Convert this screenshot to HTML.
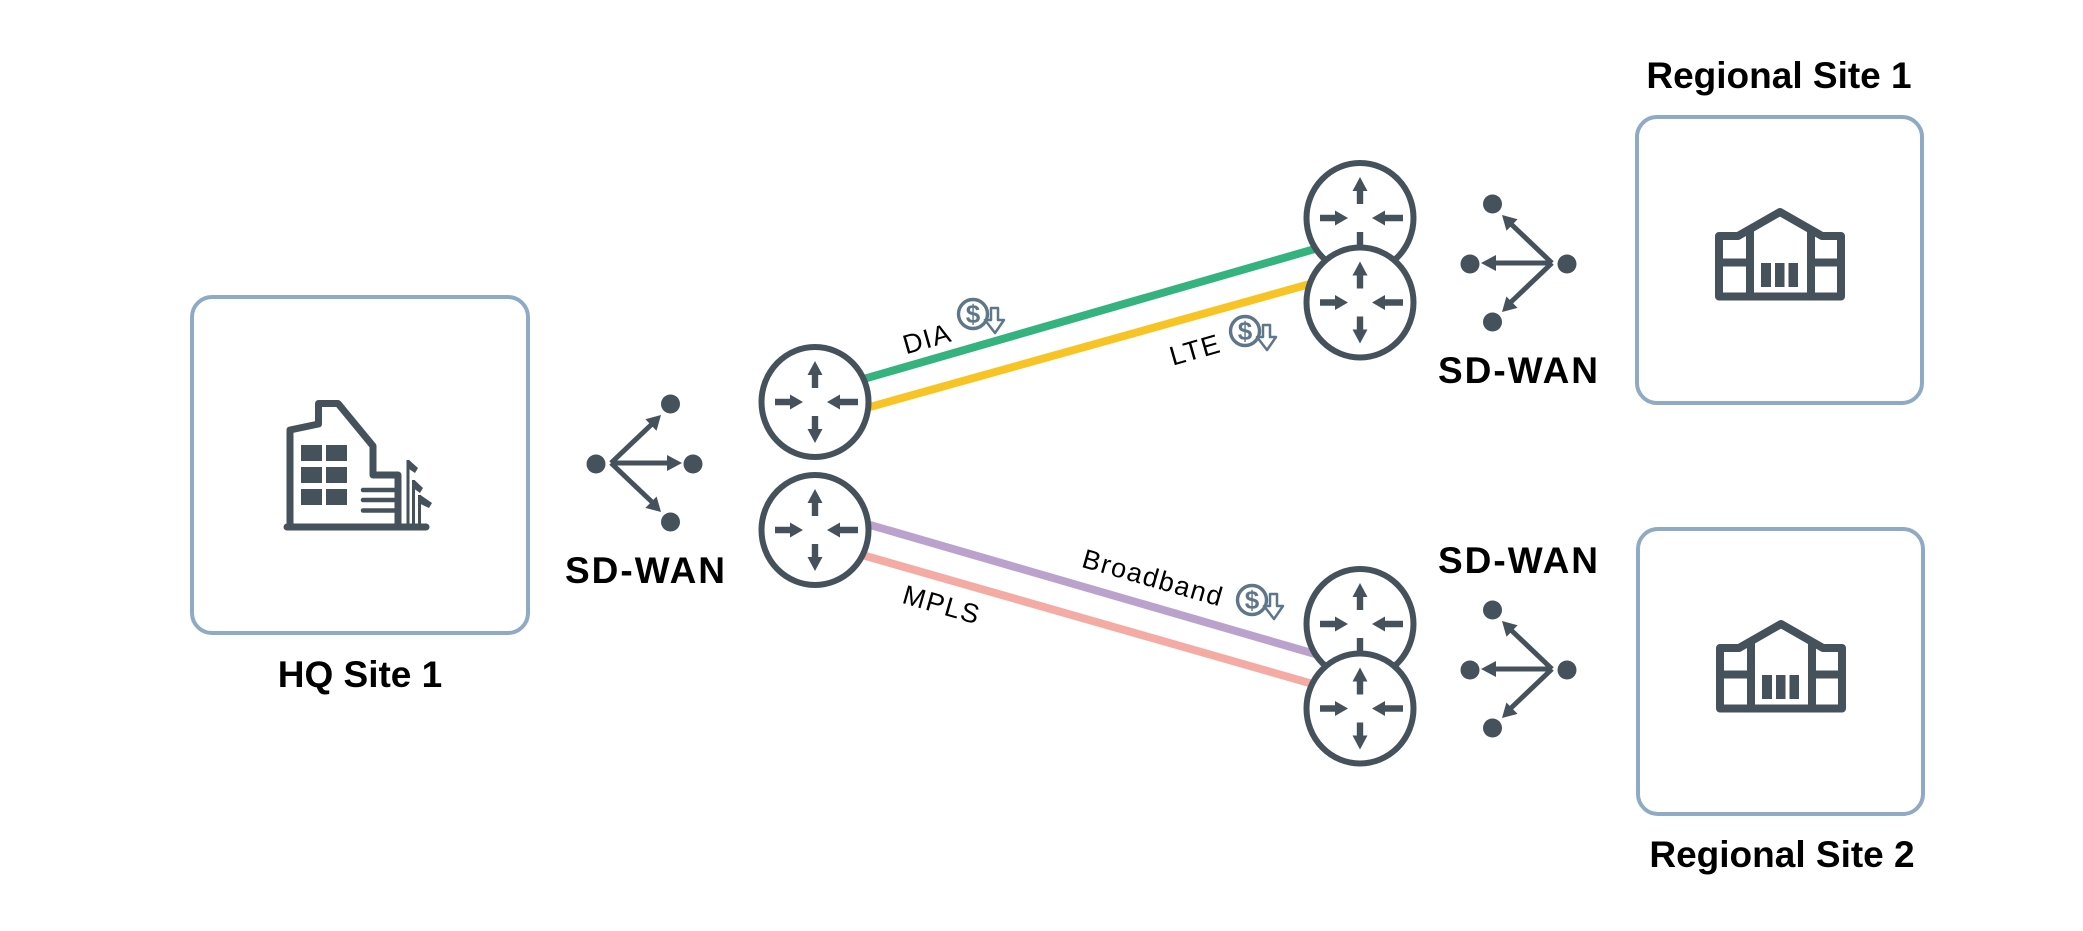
<!DOCTYPE html>
<html>
<head>
<meta charset="utf-8">
<style>
html,body{margin:0;padding:0;background:#fff;}
svg{display:block;}
.t{font-family:"Liberation Sans",Arial,sans-serif;font-weight:bold;font-size:37px;fill:#000;}
.l{font-family:"Liberation Sans",Arial,sans-serif;font-size:27px;letter-spacing:1.5px;fill:#000;}
.d{font-family:"Liberation Sans",Arial,sans-serif;font-weight:bold;font-size:26px;fill:#5e7689;}
</style>
</head>
<body>
<svg width="2083" height="931" viewBox="0 0 2083 931" xmlns="http://www.w3.org/2000/svg">
<rect width="2083" height="931" fill="#fff"/>

<!-- Boxes -->
<rect x="192" y="297" width="336" height="336" rx="20" fill="none" stroke="#8eaac4" stroke-width="4"/>
<rect x="1637" y="117" width="285" height="286" rx="20" fill="none" stroke="#8eaac4" stroke-width="4"/>
<rect x="1638" y="529" width="285" height="285" rx="20" fill="none" stroke="#8eaac4" stroke-width="4"/>

<!-- HQ building icon -->
<g stroke="#45525c" fill="none" stroke-width="7" stroke-linejoin="round">
  <path d="M290,527 L290,430 L318.5,424 L318.5,403.5 L338,403.5 L373,446 L373,475 L398,475 L398,527"/>
  <path d="M287,527 L426,527" stroke-linecap="round"/>
</g>
<g fill="#45525c">
  <rect x="301" y="445" width="21" height="16"/>
  <rect x="326" y="445" width="21" height="16"/>
  <rect x="301" y="467" width="21" height="16"/>
  <rect x="326" y="467" width="21" height="16"/>
  <rect x="301" y="489" width="21" height="16"/>
  <rect x="326" y="489" width="21" height="16"/>
  <polygon points="409,460 418,468 415,473 409,469"/>
  <polygon points="414.5,480 423,488 420,493 414.5,489"/>
  <polygon points="420.5,495 432,503 429,508 420.5,504"/>
</g>
<g stroke="#45525c" stroke-width="4.5" stroke-linecap="round">
  <line x1="363" y1="490" x2="396" y2="490"/>
  <line x1="363" y1="500" x2="396" y2="500"/>
  <line x1="363" y1="510.5" x2="396" y2="510.5"/>
</g>
<g stroke="#45525c" stroke-width="3">
  <line x1="408" y1="460" x2="408" y2="527"/>
  <line x1="413.5" y1="480" x2="413.5" y2="527"/>
  <line x1="419.5" y1="495" x2="419.5" y2="527"/>
</g>

<!-- Store icons -->
<g>
  <g stroke="#45525c" fill="none" stroke-width="8" stroke-linejoin="round">
    <path d="M1719,296.5 L1719,236 L1738,236 L1780,212 L1822,236 L1841,236 L1841,296.5 Z"/>
    <path d="M1750,229 L1750,296"/>
    <path d="M1811,229 L1811,296"/>
    <path d="M1719,262.5 L1750,262.5"/>
    <path d="M1811,262.5 L1841,262.5"/>
  </g>
  <g fill="#45525c">
    <rect x="1761" y="263" width="10" height="24"/>
    <rect x="1775" y="263" width="9.5" height="24"/>
    <rect x="1788.5" y="263" width="9.5" height="24"/>
  </g>
</g>
<g transform="translate(1,412)">
  <g stroke="#45525c" fill="none" stroke-width="8" stroke-linejoin="round">
    <path d="M1719,296.5 L1719,236 L1738,236 L1780,212 L1822,236 L1841,236 L1841,296.5 Z"/>
    <path d="M1750,229 L1750,296"/>
    <path d="M1811,229 L1811,296"/>
    <path d="M1719,262.5 L1750,262.5"/>
    <path d="M1811,262.5 L1841,262.5"/>
  </g>
  <g fill="#45525c">
    <rect x="1761" y="263" width="10" height="24"/>
    <rect x="1775" y="263" width="9.5" height="24"/>
    <rect x="1788.5" y="263" width="9.5" height="24"/>
  </g>
</g>

<!-- Link lines -->
<g stroke-width="8" stroke-linecap="butt">
  <line x1="815" y1="393" x2="1360" y2="236" stroke="#35b37e"/>
  <line x1="815" y1="422.3" x2="1360" y2="270" stroke="#f8c424"/>
  <line x1="815" y1="509" x2="1360" y2="667" stroke="#baa2cd"/>
  <line x1="815" y1="541.5" x2="1360" y2="697.5" stroke="#f3aba4"/>
</g>

<!-- Routers -->
<g transform="translate(815,402)">
  <ellipse rx="53.5" ry="55" fill="#fff" stroke="#45525c" stroke-width="6"/>
  <g fill="#45525c">
    <path d="M-3.2,-14 V-27 H-7.5 L0,-41 L7.5,-27 H3.2 V-14 Z"/>
    <path d="M-3.2,14 V27 H-7.5 L0,41 L7.5,27 H3.2 V14 Z"/>
    <path d="M-40,-3.2 H-25 V-7.5 L-12,0 L-25,7.5 V3.2 H-40 Z"/>
    <path d="M43,-3.2 H25 V-7.5 L12,0 L25,7.5 V3.2 H43 Z"/>
  </g>
</g>
<g transform="translate(815,530)">
  <ellipse rx="53.5" ry="55" fill="#fff" stroke="#45525c" stroke-width="6"/>
  <g fill="#45525c">
    <path d="M-3.2,-14 V-27 H-7.5 L0,-41 L7.5,-27 H3.2 V-14 Z"/>
    <path d="M-3.2,14 V27 H-7.5 L0,41 L7.5,27 H3.2 V14 Z"/>
    <path d="M-40,-3.2 H-25 V-7.5 L-12,0 L-25,7.5 V3.2 H-40 Z"/>
    <path d="M43,-3.2 H25 V-7.5 L12,0 L25,7.5 V3.2 H43 Z"/>
  </g>
</g>
<g transform="translate(1360,218)">
  <ellipse rx="53.5" ry="55" fill="#fff" stroke="#45525c" stroke-width="6"/>
  <g fill="#45525c">
    <path d="M-3.2,-14 V-27 H-7.5 L0,-41 L7.5,-27 H3.2 V-14 Z"/>
    <path d="M-3.2,14 V27 H-7.5 L0,41 L7.5,27 H3.2 V14 Z"/>
    <path d="M-40,-3.2 H-25 V-7.5 L-12,0 L-25,7.5 V3.2 H-40 Z"/>
    <path d="M43,-3.2 H25 V-7.5 L12,0 L25,7.5 V3.2 H43 Z"/>
  </g>
</g>
<g transform="translate(1360,302.5)">
  <ellipse rx="53.5" ry="55" fill="#fff" stroke="#45525c" stroke-width="6"/>
  <g fill="#45525c">
    <path d="M-3.2,-14 V-27 H-7.5 L0,-41 L7.5,-27 H3.2 V-14 Z"/>
    <path d="M-3.2,14 V27 H-7.5 L0,41 L7.5,27 H3.2 V14 Z"/>
    <path d="M-40,-3.2 H-25 V-7.5 L-12,0 L-25,7.5 V3.2 H-40 Z"/>
    <path d="M43,-3.2 H25 V-7.5 L12,0 L25,7.5 V3.2 H43 Z"/>
  </g>
</g>
<g transform="translate(1360,624)">
  <ellipse rx="53.5" ry="55" fill="#fff" stroke="#45525c" stroke-width="6"/>
  <g fill="#45525c">
    <path d="M-3.2,-14 V-27 H-7.5 L0,-41 L7.5,-27 H3.2 V-14 Z"/>
    <path d="M-3.2,14 V27 H-7.5 L0,41 L7.5,27 H3.2 V14 Z"/>
    <path d="M-40,-3.2 H-25 V-7.5 L-12,0 L-25,7.5 V3.2 H-40 Z"/>
    <path d="M43,-3.2 H25 V-7.5 L12,0 L25,7.5 V3.2 H43 Z"/>
  </g>
</g>
<g transform="translate(1360,708.5)">
  <ellipse rx="53.5" ry="55" fill="#fff" stroke="#45525c" stroke-width="6"/>
  <g fill="#45525c">
    <path d="M-3.2,-14 V-27 H-7.5 L0,-41 L7.5,-27 H3.2 V-14 Z"/>
    <path d="M-3.2,14 V27 H-7.5 L0,41 L7.5,27 H3.2 V14 Z"/>
    <path d="M-40,-3.2 H-25 V-7.5 L-12,0 L-25,7.5 V3.2 H-40 Z"/>
    <path d="M43,-3.2 H25 V-7.5 L12,0 L25,7.5 V3.2 H43 Z"/>
  </g>
</g>

<!-- SD-WAN icons -->
<g>
  <g stroke="#45525c" stroke-width="5" fill="none">
    <path d="M611,463 H670"/>
    <path d="M611,463 L652,424"/>
    <path d="M611,463 L652,502"/>
  </g>
  <g fill="#45525c">
    <polygon points="682,463 667,455 667,471"/>
    <polygon points="661,415 656.5,430.8 645.4,419.2"/>
    <polygon points="661,512 645.4,507.9 656.6,496.5"/>
    <circle cx="596" cy="464" r="9.5"/>
    <circle cx="670.5" cy="404" r="9.5"/>
    <circle cx="693" cy="464" r="9.5"/>
    <circle cx="670.5" cy="522" r="9.5"/>
  </g>
</g>
<g transform="translate(2163,-200) scale(-1,1)">
  <g stroke="#45525c" stroke-width="5" fill="none">
    <path d="M611,463 H670"/>
    <path d="M611,463 L652,424"/>
    <path d="M611,463 L652,502"/>
  </g>
  <g fill="#45525c">
    <polygon points="682,463 667,455 667,471"/>
    <polygon points="661,415 656.5,430.8 645.4,419.2"/>
    <polygon points="661,512 645.4,507.9 656.6,496.5"/>
    <circle cx="596" cy="464" r="9.5"/>
    <circle cx="670.5" cy="404" r="9.5"/>
    <circle cx="693" cy="464" r="9.5"/>
    <circle cx="670.5" cy="522" r="9.5"/>
  </g>
</g>
<g transform="translate(2163,206) scale(-1,1)">
  <g stroke="#45525c" stroke-width="5" fill="none">
    <path d="M611,463 H670"/>
    <path d="M611,463 L652,424"/>
    <path d="M611,463 L652,502"/>
  </g>
  <g fill="#45525c">
    <polygon points="682,463 667,455 667,471"/>
    <polygon points="661,415 656.5,430.8 645.4,419.2"/>
    <polygon points="661,512 645.4,507.9 656.6,496.5"/>
    <circle cx="596" cy="464" r="9.5"/>
    <circle cx="670.5" cy="404" r="9.5"/>
    <circle cx="693" cy="464" r="9.5"/>
    <circle cx="670.5" cy="522" r="9.5"/>
  </g>
</g>

<!-- Dollar icons -->
<g transform="translate(973,314)">
  <circle r="14.5" fill="none" stroke="#5e7689" stroke-width="3.4"/>
  <text class="d" x="0" y="9" text-anchor="middle">$</text>
  <path d="M18,-6 H25 V6 H31 L22,19 L12,6 H18 Z" fill="#fff" stroke="#5e7689" stroke-width="2.5" stroke-linejoin="round"/>
</g>
<g transform="translate(1245,331)">
  <circle r="14.5" fill="none" stroke="#5e7689" stroke-width="3.4"/>
  <text class="d" x="0" y="9" text-anchor="middle">$</text>
  <path d="M18,-6 H25 V6 H31 L22,19 L12,6 H18 Z" fill="#fff" stroke="#5e7689" stroke-width="2.5" stroke-linejoin="round"/>
</g>
<g transform="translate(1252,600)">
  <circle r="14.5" fill="none" stroke="#5e7689" stroke-width="3.4"/>
  <text class="d" x="0" y="9" text-anchor="middle">$</text>
  <path d="M18,-6 H25 V6 H31 L22,19 L12,6 H18 Z" fill="#fff" stroke="#5e7689" stroke-width="2.5" stroke-linejoin="round"/>
</g>

<!-- Link labels -->
<text class="l" transform="translate(927,338) rotate(-16)" text-anchor="middle" y="10">DIA</text>
<text class="l" transform="translate(1195,349) rotate(-16)" text-anchor="middle" y="10">LTE</text>
<text class="l" transform="translate(1153,578) rotate(16)" text-anchor="middle" y="9">Broadband</text>
<text class="l" transform="translate(942,604) rotate(16)" text-anchor="middle" y="10">MPLS</text>

<!-- Titles -->
<text class="t" x="360" y="687" text-anchor="middle">HQ Site 1</text>
<text class="t" x="1779" y="88" text-anchor="middle">Regional Site 1</text>
<text class="t" x="1782" y="867" text-anchor="middle">Regional Site 2</text>
<text class="t" x="646" y="583" text-anchor="middle" letter-spacing="2">SD-WAN</text>
<text class="t" x="1519" y="383" text-anchor="middle" letter-spacing="2">SD-WAN</text>
<text class="t" x="1519" y="573" text-anchor="middle" letter-spacing="2">SD-WAN</text>
</svg>
</body>
</html>
